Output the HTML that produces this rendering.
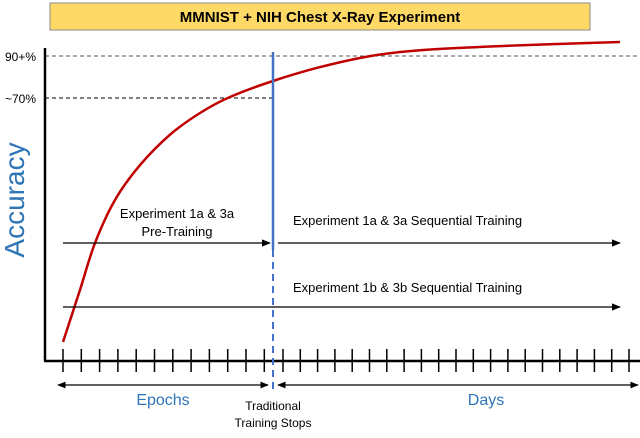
<!DOCTYPE html>
<html><head><meta charset="utf-8"><style>
body{margin:0;background:#fff;width:640px;height:433px;overflow:hidden;font-family:"Liberation Sans",sans-serif}
</style></head><body>
<svg id="c" width="640" height="433" xmlns="http://www.w3.org/2000/svg" font-family="Liberation Sans, sans-serif">
<rect x="50" y="3" width="540" height="27" fill="#FFD966" stroke="#8a8a8a"/>
<text x="320" y="22" text-anchor="middle" font-size="15" font-weight="bold">MMNIST + NIH Chest X-Ray Experiment</text>
<line x1="45" y1="56" x2="640" y2="56" stroke="#555" stroke-dasharray="4,3"/>
<line x1="45" y1="98" x2="273" y2="98" stroke="#000" stroke-dasharray="4,3"/>
<text x="5" y="61" font-size="12">90+%</text>
<text x="5" y="103" font-size="12">~70%</text>
<text transform="translate(24,200) rotate(-90)" text-anchor="middle" font-size="28" fill="#2E75B6">Accuracy</text>
<line x1="45" y1="48" x2="45" y2="361" stroke="#000" stroke-width="2.5"/>
<line x1="44" y1="361" x2="640" y2="361" stroke="#000" stroke-width="2.5"/>
<g id="ticks"></g>
<path id="curve" fill="none" stroke="#C00000" stroke-width="2.5"/>
<line x1="273" y1="52" x2="273" y2="250" stroke="#4472C4" stroke-width="2.5"/>
<line x1="273" y1="250" x2="273" y2="392" stroke="#4472C4" stroke-width="2" stroke-dasharray="7,5"/>
<defs><marker id="ah" viewBox="0 0 10 10" refX="9" refY="5" markerWidth="7" markerHeight="7" orient="auto-start-reverse"><path d="M0,1L10,5L0,9z" fill="#000"/></marker></defs>
<text x="177" y="218" text-anchor="middle" font-size="13">Experiment 1a &amp; 3a</text>
<text x="177" y="236" text-anchor="middle" font-size="13">Pre-Training</text>
<line x1="63" y1="243" x2="270" y2="243" stroke="#000" stroke-width="1.3" marker-end="url(#ah)"/>
<text x="293" y="225" font-size="13">Experiment 1a &amp; 3a Sequential Training</text>
<line x1="278" y1="243" x2="620" y2="243" stroke="#000" stroke-width="1.3" marker-end="url(#ah)"/>
<text x="293" y="292" font-size="13">Experiment 1b &amp; 3b Sequential Training</text>
<line x1="63" y1="307" x2="620" y2="307" stroke="#000" stroke-width="1.3" marker-end="url(#ah)"/>
<line x1="58" y1="385" x2="268" y2="385" stroke="#000" stroke-width="1.2" marker-start="url(#ah)" marker-end="url(#ah)"/>
<line x1="278" y1="385" x2="638" y2="385" stroke="#000" stroke-width="1.2" marker-start="url(#ah)" marker-end="url(#ah)"/>
<text x="163" y="405" text-anchor="middle" font-size="16" fill="#2E75B6">Epochs</text>
<text x="486" y="405" text-anchor="middle" font-size="16" fill="#2E75B6">Days</text>
<text x="273" y="410" text-anchor="middle" font-size="12">Traditional</text>
<text x="273" y="427" text-anchor="middle" font-size="12">Training Stops</text>
</svg>
<script>
const curveX=[63,80,95,115,140,170,200,230,273,320,370,420,500,620];
const curveAcc=[5,21.6,36.5,50.2,61.3,71.0,77.9,83.0,88.1,92.5,96.0,97.9,99.2,100.5];
const ns="http://www.w3.org/2000/svg";
const yScale=a=>342-(a-5)*300/95.5;
const pts=curveX.map((x,i)=>[x,yScale(curveAcc[i])]);
let d="M"+pts[0][0]+","+pts[0][1].toFixed(1);
for(let i=0;i<pts.length-1;i++){
  const p0=pts[Math.max(0,i-1)],p1=pts[i],p2=pts[i+1],p3=pts[Math.min(pts.length-1,i+2)];
  const c1=[p1[0]+(p2[0]-p0[0])/6,p1[1]+(p2[1]-p0[1])/6];
  const c2=[p2[0]-(p3[0]-p1[0])/6,p2[1]-(p3[1]-p1[1])/6];
  d+="C"+c1[0].toFixed(1)+","+c1[1].toFixed(1)+" "+c2[0].toFixed(1)+","+c2[1].toFixed(1)+" "+p2[0]+","+p2[1].toFixed(1);
}
document.getElementById("curve").setAttribute("d",d);
const g=document.getElementById("ticks");
const tx=[];
for(let i=0;i<12;i++)tx.push(63+i*18.3);
for(let j=0;j<=20;j++)tx.push(283+j*17.3);
tx.forEach(x=>{const l=document.createElementNS(ns,"line");
l.setAttribute("x1",x);l.setAttribute("x2",x);l.setAttribute("y1",349);l.setAttribute("y2",372);
l.setAttribute("stroke","#000");l.setAttribute("stroke-width","1.5");


g.appendChild(l);});
</script>
</body></html>
